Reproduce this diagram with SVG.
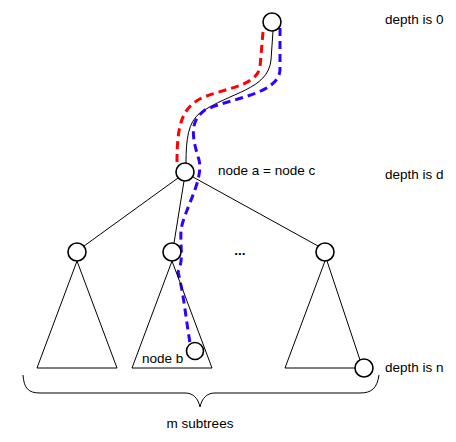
<svg xmlns="http://www.w3.org/2000/svg" width="456" height="442" viewBox="0 0 456 442">
<style>
.t{font-family:"Liberation Sans",Arial,sans-serif;font-size:13.5px;fill:#000}
.ln{fill:none;stroke:#000;stroke-width:1}
.nd{fill:#fff;stroke:#000;stroke-width:1.6}
.red{fill:none;stroke:#f00;stroke-width:3;stroke-dasharray:8,5}
.blue{fill:none;stroke:#3300ff;stroke-width:3;stroke-dasharray:8,5}
</style>
<rect width="456" height="442" fill="#fff"/>
<g id="connectors">
<path class="ln" d="M273,31 L271,60 C268,90 230,92 200,113 C188,122 186,140 186,163"/>
<line class="ln" x1="178" y1="178" x2="84" y2="246"/>
<line class="ln" x1="184" y1="181" x2="174" y2="243"/>
<line class="ln" x1="193" y1="177" x2="318" y2="246"/>
<path class="red" d="M263,32 L260,67 C256,88 220,88 198,100 C182,110 177,125 177,162"/>
<path class="blue" d="M280,28 L280,70 C278,95 230,98 205,110 C188,122 193,140 199,160 C204,180 184,210 181,230 C180,250 184,258 178,272 C184,295 186,320 190,343"/>
</g>
<g id="tri1"><path class="ln" d="M77,261 L37,368 L117,368 Z"/></g>
<g id="tri2"><path class="ln" d="M172,261 L132,368 L212,368 Z"/></g>
<g id="tri3"><path class="ln" d="M325,261 L285,368 L355,368 M327,261 L360,360"/></g>
<g id="n0"><circle class="nd" cx="272" cy="22" r="9"/></g>
<g id="na"><circle class="nd" cx="185" cy="172" r="9"/></g>
<g id="n1"><circle class="nd" cx="77" cy="252" r="9"/></g>
<g id="n2"><circle class="nd" cx="172" cy="252" r="9"/></g>
<g id="n3"><circle class="nd" cx="325" cy="252" r="9"/></g>
<g id="nb"><circle class="nd" cx="195" cy="351" r="8.5"/></g>
<g id="nn"><circle class="nd" cx="364" cy="368" r="9"/></g>
<g id="brace"><path class="ln" d="M23,375 C24,388 28,393 40,393 L185,393 C193,393 198,398 200,407 C202,398 207,393 215,393 L360,393 C372,393 377,388 379,375"/></g>
<g id="labels">
<text class="t" x="385" y="24">depth is 0</text>
<text class="t" x="218" y="175">node a = node c</text>
<text class="t" x="385" y="179">depth is d</text>
<text class="t" x="385" y="372">depth is n</text>
<text class="t" x="142" y="363">node b</text>
<text class="t" x="200" y="428" text-anchor="middle">m subtrees</text>
<text class="t" x="240" y="255" text-anchor="middle" font-weight="bold">...</text>
</g>
</svg>
